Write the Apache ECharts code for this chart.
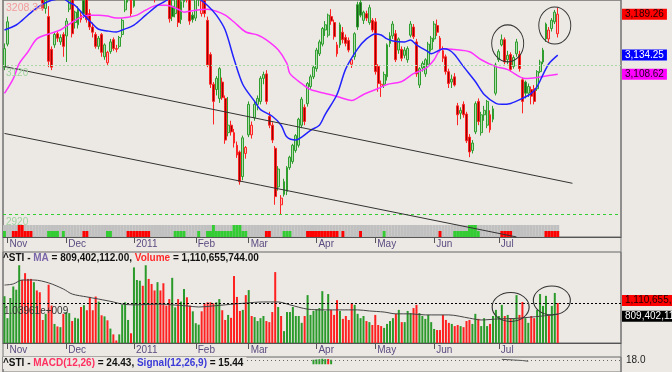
<!DOCTYPE html>
<html><head><meta charset="utf-8">
<script src="https://cdn.jsdelivr.net/npm/echarts@6/dist/echarts.min.js"></script>
<style>html,body{margin:0;padding:0;background:#ece9e4}#c{width:672px;height:372px}</style>
</head><body><div id="c"></div>
<script>
const FONT = '"Liberation Sans", Arial, sans-serif';
const BG = '#ece9e4';

// ---------- calendar ----------
const startDate = [2010, 9, 29];
const holidays = ['2010-11-05','2010-11-17','2011-02-03','2011-02-04','2011-04-22','2011-05-02','2011-05-17','2011-08-09','2011-08-30'];
const slotCount = 210;
const monthTickLabels = {'2010-11':'Nov','2010-12':'Dec','2011-01':'2011','2011-02':'Feb','2011-03':'Mar','2011-04':'Apr','2011-05':'May','2011-06':'Jun','2011-07':'Jul'};

// ---------- price data ----------
const opens = [3118,3149,3215,3232,3255,3268,3284,3276,3266,3255,3244,3248,3232,3222,3197,3186,3142,3148,3163,3152,
3162,3160,3196,3212,3178,3175,3182,3208,3210,3190,3172,3162,3146,3162,3132,3124,3139,3155,3143,3146,
3162,3195,3212,3215,3200,3240,3255,3268,3262,3274,3270,3218,3235,3250,3240,3232,3222,3200,3190,3212,
3182,3206,3218,3214,3188,3184,3210,3190,3208,3181,3135,3095,3088,3076,3098,3076,3030,3040,3030,3013,
3004,2971,3002,3027,3027,3050,3068,3072,3103,3109,3052,3040,3009,2957,2933,2964,2951,2983,2991,3006,
3013,3040,3064,3069,3092,3105,3116,3136,3149,3168,3161,3186,3178,3148,3148,3165,3158,3154,3122,3132,
3202,3205,3181,3190,3178,3181,3179,3119,3092,3095,3105,3150,3160,3163,3141,3142,3134,3128,3161,3172,
3152,3094,3117,3109,3122,3142,3156,3174,3157,3140,3132,3112,3098,3105,3066,3056,3068,3055,3024,3006,
3031,3072,3030,3054,3040,3054,3048,3083,3128,3148,3155,3128,3135,3119,3136,3135,3101,3098,3083,3088,
3089,3089,3112,3125,3156,3156,3170,3179,3163];
const highs = [3150,3186,3240,3262,3280,3290,3300,3292,3280,3266,3258,3256,3245,3228,3215,3200,3146,3165,3166,3162,
3165,3184,3215,3218,3194,3200,3192,3215,3220,3196,3178,3165,3160,3164,3150,3140,3156,3158,3148,3160,
3184,3215,3230,3222,3245,3262,3275,3285,3280,3290,3276,3240,3256,3262,3252,3244,3230,3210,3215,3218,
3210,3225,3228,3222,3192,3215,3225,3212,3215,3186,3138,3098,3106,3118,3104,3080,3078,3046,3035,3018,
3006,3026,3012,3072,3045,3072,3080,3106,3112,3114,3058,3044,3012,2985,2946,2968,2985,2999,3015,3028,
3050,3078,3068,3098,3108,3120,3144,3155,3172,3180,3190,3196,3182,3152,3178,3172,3162,3158,3130,3165,
3206,3210,3194,3194,3202,3184,3184,3122,3100,3112,3150,3165,3180,3168,3158,3146,3145,3146,3180,3176,
3156,3118,3126,3130,3152,3160,3180,3182,3160,3146,3135,3116,3108,3110,3070,3064,3072,3058,3028,3020,
3072,3076,3058,3066,3074,3060,3066,3124,3142,3162,3158,3140,3138,3134,3156,3140,3104,3100,3096,3092,
3094,3114,3128,3144,3178,3172,3184,3195,3198];
const lows = [3114,3146,3212,3225,3248,3258,3270,3262,3248,3238,3232,3226,3218,3194,3190,3118,3114,3144,3152,3148,
3132,3125,3192,3158,3170,3170,3178,3184,3178,3168,3158,3143,3142,3132,3128,3121,3136,3140,3138,3143,
3158,3192,3205,3186,3198,3232,3245,3255,3250,3262,3242,3205,3228,3236,3225,3215,3178,3180,3185,3172,
3176,3198,3205,3175,3178,3180,3200,3186,3185,3118,3090,3041,3080,3070,3074,3015,3025,3026,3010,2996,
2960,2966,2995,3024,3022,3046,3060,3068,3095,3068,3036,3016,2933,2952,2920,2944,2946,2980,2988,3003,
3010,3036,3040,3065,3088,3102,3112,3133,3146,3160,3158,3175,3155,3132,3144,3150,3146,3138,3117,3128,
3168,3185,3176,3180,3175,3165,3108,3085,3078,3090,3100,3145,3156,3125,3136,3126,3130,3124,3158,3156,
3105,3090,3112,3105,3118,3139,3152,3160,3138,3125,3108,3090,3090,3092,3040,3048,3050,3016,2997,3002,
3028,3040,3026,3046,3036,3030,3044,3080,3125,3146,3122,3122,3112,3116,3132,3112,3056,3076,3078,3068,
3068,3086,3110,3122,3152,3152,3166,3176,3158];
const closes = [3143,3179,3232,3255,3270,3284,3276,3268,3255,3244,3250,3234,3224,3197,3208,3126,3118,3162,3157,3158,
3146,3180,3208,3163,3192,3196,3188,3190,3182,3172,3165,3146,3157,3138,3148,3138,3152,3143,3142,3158,
3181,3210,3222,3190,3240,3255,3268,3262,3274,3270,3248,3235,3250,3240,3232,3226,3183,3186,3210,3178,
3206,3218,3212,3180,3182,3210,3218,3207,3190,3121,3095,3072,3103,3116,3077,3020,3040,3031,3016,3000,
2964,3023,3010,3068,3040,3068,3076,3103,3108,3072,3040,3020,2944,2981,2942,2947,2983,2997,3013,3026,
3048,3075,3045,3096,3105,3118,3141,3152,3170,3175,3188,3180,3159,3136,3175,3155,3150,3141,3128,3163,
3172,3188,3192,3184,3198,3168,3112,3096,3095,3108,3148,3160,3176,3128,3156,3130,3141,3143,3176,3159,
3109,3116,3123,3128,3149,3157,3176,3165,3141,3130,3112,3096,3102,3094,3054,3060,3054,3019,3004,3016,
3069,3045,3054,3060,3072,3034,3062,3121,3139,3155,3125,3134,3115,3131,3152,3116,3072,3083,3092,3079,
3072,3112,3125,3141,3176,3168,3181,3192,3189.26];

// moving averages read at sample points: [trading-day index, value]
const maBluePts = [[0,3168],[4,3174.7],[6,3181],[10,3194.7],[13,3202.7],[16,3208],[20,3210],[22,3205],[24,3201],[27,3188],[30,3176],[32,3169],[35,3166.7],[38,3165.3],[40,3168],[44,3174.7],[48,3188],[52,3201],[54,3205.3],[58,3213],[62,3213],[66,3210],[69,3201],[72,3188],[75,3168],[78,3129],[81,3094.7],[85,3072],[87,3061],[91,3052],[94,3040],[96,3024],[99,3020],[101,3024],[104,3033],[107,3040],[109,3054.7],[113,3081.3],[116,3116],[120,3142.7],[123,3156],[126,3162.7],[128,3161.3],[130,3156],[132,3153.3],[136,3152],[138,3154.7],[140,3148],[144,3138.7],[145,3136],[148,3141.3],[149,3142.7],[151,3141.3],[153,3134.7],[156,3118.7],[160,3098.7],[163,3081.3],[167,3069.3],[169,3068],[172,3069.3],[176,3076],[179,3082.7],[181,3092],[183,3108],[185,3122.7],[188,3134.25]];
const maMagentaPts = [[0,3082.7],[3,3102.7],[5,3122.7],[8,3138.7],[11,3156],[15,3162.7],[19,3168],[22,3176],[26,3185.3],[29,3188],[32,3188],[35,3186.7],[38,3184],[42,3185.3],[45,3188],[48,3194.7],[52,3201.3],[55,3201.3],[59,3196],[61,3192],[65,3194.7],[69,3196],[72,3193.3],[75,3188],[78,3178.7],[82,3165.3],[86,3161.3],[89,3154.7],[93,3141.3],[96,3122.7],[97,3109.3],[101,3096],[104,3088],[109,3082.7],[113,3078.7],[118,3073.3],[122,3081.3],[127,3089.3],[130,3094.7],[135,3098.7],[139,3109.3],[143,3116],[146,3128],[148,3141.3],[150,3142.7],[152,3142],[158,3138.7],[162,3128],[167,3118.7],[171,3114.7],[177,3102.7],[181,3104],[185,3106.7],[188,3108.62]];

// trend lines: [[startIndex, startValue], [endIndex, endValue]]
const trendLines = [[[120,3209],[199,3130.7]],[[0,3118.9],[193,2961.9]],[[0,3028.9],[174,2889.7]]];
const circledCandles = [[171,3150],[187,3174]];
const priceLevels = {grid: [3120, 2920], top: 3208.34};

// indicator band segments: [from, to, code]  (+green / -red, 1 short, 2 tall)
const bandSegments = [[0,0,1],[3,9,-1],[5,6,-2],[15,18,1],[20,20,1],[27,28,-1],[35,36,1],[42,49,-1],[58,61,1],[66,66,1],[69,82,1],[71,71,2],[78,80,2],[89,90,-1],[95,97,1],[103,113,-1],[115,115,-1],[121,121,-1],[129,129,1],[148,148,-1],[153,161,1],[158,160,2],[169,172,-1],[184,188,-1]];

// ---------- volume (millions of shares) ----------
const volumesM = [1300,690,1250,1570,1480,2160,1750,1940,1780,1780,1690,1460,1410,640,810,1620,1040,530,460,440,
810,860,830,610,700,680,1000,1050,910,1280,910,1290,1150,770,740,630,400,240,70,240,
1070,1130,640,270,2100,1750,1730,1590,2160,1780,1640,1460,1690,1460,1660,1040,1220,1810,990,1220,
1150,1500,1270,1040,880,550,510,880,1100,1130,1130,1100,1130,1220,910,640,780,700,1860,1280,
890,920,1330,1470,750,720,610,690,750,610,580,860,1970,1000,750,330,860,860,1000,750,
750,560,750,1330,780,890,940,970,1440,890,1360,920,780,1190,890,670,750,640,1110,1060,
810,690,750,610,580,500,780,500,470,420,530,610,690,810,920,580,580,890,830,970,
1060,830,750,670,780,580,390,360,360,780,640,560,530,470,500,470,440,610,640,530,
810,670,470,690,470,530,750,920,750,1060,750,780,690,690,1330,780,1140,690,560,750,
690,920,1360,1030,1310,780,1030,1390,1110.655744];
const volMAPts = [[0,1610],[3,1640],[6,1750],[10,1750],[15,1670],[20,1500],[23,1360],[28,1280],[32,1220],[37,1140],[40,1080],[44,1060],[53,1080],[57,1060],[62,1030],[66,1000],[71,1030],[75,1060],[82,1110],[88,1140],[93,1140],[97,1060],[103,940],[109,920],[114,920],[120,920],[124,890],[129,860],[133,810],[138,810],[143,780],[147,780],[151,780],[158,690],[162,640],[168,670],[173,680],[179,720],[185,770],[188,809.402112]];
const volAxisLabelValue = 1039.61;
const circledVolumes = [[172,1000],[186,1180]];

// ---------- MACD (only the visible upper part) ----------
const macdHistPts = [[105,18],[106,19.3],[107,20.3],[108,22],[109,20.3],[110,-21],[111,18]];
const macdLinePts = [[169,19.5],[171,18.5],[173,17],[176,15],[178,12]];
const macdLast = 24.43, signalLast = 15.44, macdLevel = 18.0;

// ---------- build ----------
const dates = [];
(function(){
  const d = new Date(Date.UTC(startDate[0], startDate[1], startDate[2]));
  while (dates.length < slotCount) {
    const s = d.toISOString().slice(0,10);
    const wd = d.getUTCDay();
    if (wd !== 0 && wd !== 6 && holidays.indexOf(s) < 0) dates.push(s);
    d.setUTCDate(d.getUTCDate() + 1);
  }
})();
const nData = closes.length;
const isMonthStart = i => i > 0 && i < nData && dates[i].slice(0,7) !== dates[i-1].slice(0,7);
const fmt2 = n => n.toLocaleString('en-US', {minimumFractionDigits:2, maximumFractionDigits:2});

const GREEN = '#2f9e2f', RED = '#ff2424';
const GREEN_FILL = '#b4ddb1', RED_FILL = '#ffb9b9';
const GREEN_SOLID = '#1d5e1d', RED_SOLID = '#9a0000';
const rising = i => i === 0 || closes[i] >= closes[i-1];

const candleData = closes.map((c, i) => {
  const up = rising(i), hollow = c >= opens[i];
  const edge = up ? GREEN : RED;
  const fill = hollow ? (up ? GREEN_FILL : RED_FILL) : (up ? GREEN_SOLID : RED_SOLID);
  return {value: [opens[i], c, lows[i], highs[i]],
    itemStyle: {color: fill, color0: fill, borderColor: edge, borderColor0: edge}};
});

const bandCodes = new Array(nData).fill(0);
bandSegments.forEach(([a,b,c]) => { for (let i = a; i <= b; i++) bandCodes[i] = c; });
const bandData = bandCodes.map(c => ({value: Math.abs(c), itemStyle: {color: c > 0 ? '#33cc33' : '#ff0000'}}));

const volData = volumesM.map((v, i) => ({value: v, itemStyle: {color: rising(i) ? '#2a9a2a' : '#ff2020'}}));
const histData = macdHistPts.map(([i, v]) => ({value: [i, Math.abs(v)], itemStyle: {color: v > 0 ? '#2a9a2a' : '#ff2020'}}));

const lastClose = closes[nData-1];
const lastBlue = maBluePts[maBluePts.length-1][1];
const lastMag = maMagentaPts[maMagentaPts.length-1][1];
const lastVol = volumesM[nData-1];
const lastVolMA = volMAPts[volMAPts.length-1][1];

const axisLabelCommon = {
  show: true, interval: (i) => isMonthStart(i), formatter: (v) => monthTickLabels[v.slice(0,7)] || '',
  align: 'left', padding: [0,0,0,2], color: '#5b4b80', fontSize: 10, fontFamily: FONT, margin: 2
};
const axisTickCommon = {show: true, interval: (i) => isMonthStart(i), alignWithLabel: true, length: 6, lineStyle: {color: '#555'}};
const hiddenX = gi => ({type: 'category', gridIndex: gi, data: dates, boundaryGap: true, show: false});

const boxLabel = (text, bg, color, extra) => Object.assign({show: true, position: 'end', formatter: text, backgroundColor: bg,
  color: color, padding: [1,3,0,3], fontSize: 10, fontFamily: FONT, distance: 1}, extra || {});
const sideLabel = (text, color, size, dist) => ({show: true, position: 'insideStartBottom', formatter: text, color: color,
  fontSize: size, fontFamily: FONT, distance: dist});
const noLine = {color: 'rgba(0,0,0,0)', width: 1, type: 'solid'};

const richBase = {fontSize: 10, fontFamily: FONT};
const option = {
  animation: false,
  backgroundColor: BG,
  textStyle: {fontFamily: FONT},
  title: [
    {left: 3, top: 253, padding: 0,
     text: '{k|^STI - }{m|MA}{k| = ' + fmt2(lastVolMA*1e6) + ', }{r|Volume}{k| = ' + fmt2(lastVol*1e6) + '}',
     textStyle: {rich: {k: Object.assign({color: '#111'}, richBase), m: Object.assign({color: '#7a66a8'}, richBase), r: Object.assign({color: '#ff2a2a'}, richBase)}}},
    {left: 3, top: 357, padding: [1,3,1,0], backgroundColor: BG,
     text: '{k|^STI - }{r|MACD(12,26)}{k| = ' + macdLast.toFixed(2) + ', }{b|Signal(12,26,9)}{k| = ' + signalLast.toFixed(2) + '}',
     textStyle: {rich: {k: Object.assign({color: '#111'}, richBase), r: Object.assign({color: '#ff3060'}, richBase), b: Object.assign({color: '#3b3bd8'}, richBase)}}}
  ],
  grid: [
    {left: 3, right: 51, top: -2, height: 239, show: true, borderColor: '#666', borderWidth: 1},
    {left: 3, right: 51, top: 225, height: 12},
    {left: 3, right: 51, top: 252, height: 91, show: true, borderColor: '#666', borderWidth: 1},
    {left: 3, right: 51, top: 357, height: 100, show: true, borderColor: '#666', borderWidth: 1},
    {left: 3, right: 51, top: -10, bottom: -10, show: true, borderColor: '#777', borderWidth: 1}
  ],
  xAxis: [
    {type: 'category', gridIndex: 0, data: dates, boundaryGap: true,
     axisLine: {show: true, lineStyle: {color: '#555'}}, axisTick: axisTickCommon, axisLabel: axisLabelCommon, splitLine: {show: false}},
    hiddenX(1),
    {type: 'category', gridIndex: 2, data: dates, boundaryGap: true,
     axisLine: {show: true, lineStyle: {color: '#555'}}, axisTick: axisTickCommon, axisLabel: axisLabelCommon, splitLine: {show: false}},
    hiddenX(3),
    hiddenX(4)
  ],
  yAxis: [
    {type: 'value', gridIndex: 0, min: 2889.67, max: 3208.34, show: false},
    {type: 'value', gridIndex: 1, min: 0, max: 2, show: false},
    {type: 'value', gridIndex: 2, min: 0, max: 2527.8, show: false},
    {type: 'value', gridIndex: 3, min: -71, max: 29, show: false},
    {type: 'value', gridIndex: 4, min: 0, max: 1, show: false}
  ],
  series: [
    {type: 'bar', xAxisIndex: 1, yAxisIndex: 1, data: bandData, barCategoryGap: '0%', z: 1,
     showBackground: true, backgroundStyle: {color: '#c0c0c0'}},
    {type: 'candlestick', xAxisIndex: 0, yAxisIndex: 0, data: candleData, barWidth: 2.4, z: 3,
     markLine: {silent: true, symbol: ['none','none'], z: 6,
       data: [
         {yAxis: priceLevels.grid[0], lineStyle: {color: '#a9d9a9', type: [2,2], width: 1}, label: sideLabel(String(priceLevels.grid[0]), '#9fd39f', 10, 3)},
         {yAxis: priceLevels.grid[1], lineStyle: {color: '#33cc33', type: [3,3], width: 1}, label: sideLabel(String(priceLevels.grid[1]), '#9fd39f', 10, 3)},
         {yAxis: priceLevels.top, lineStyle: noLine, label: sideLabel(String(priceLevels.top), '#f29a9a', 10.5, 3)},
         {yAxis: lastClose, lineStyle: noLine, label: boxLabel(fmt2(lastClose), '#ff0000', '#200000')}
       ].concat(trendLines.map(([a, b]) => [
         {coord: a, lineStyle: {color: '#333', width: 1, type: 'solid'}, label: {show: false}},
         {coord: b}
       ]))},
     markPoint: {silent: true, z: 6,
       data: circledCandles.map(c => ({coord: c, symbol: 'circle', symbolSize: [32, 37],
         itemStyle: {color: 'rgba(0,0,0,0)', borderColor: '#333', borderWidth: 1}, label: {show: false}}))}},
    {type: 'line', xAxisIndex: 0, yAxisIndex: 0, data: maMagentaPts, smooth: 0.3, symbol: 'none', z: 4,
     lineStyle: {color: '#ff33ff', width: 1.5},
     markLine: {silent: true, symbol: ['none','none'], data: [{yAxis: lastMag, lineStyle: noLine, label: boxLabel(fmt2(lastMag), '#ff00ff', '#200020')}]}},
    {type: 'line', xAxisIndex: 0, yAxisIndex: 0, data: maBluePts, smooth: 0.3, symbol: 'none', z: 5,
     lineStyle: {color: '#2222ff', width: 1.5},
     markLine: {silent: true, symbol: ['none','none'], data: [{yAxis: lastBlue, lineStyle: noLine, label: boxLabel(fmt2(lastBlue), '#0000ff', '#ffffff')}]}},
    {type: 'bar', xAxisIndex: 2, yAxisIndex: 2, data: volData, barWidth: 2, z: 3,
     markLine: {silent: true, symbol: ['none','none'], z: 6,
       data: [
         {yAxis: lastVol, lineStyle: {color: '#000', type: [2,2], width: 1}, label: boxLabel(fmt2(lastVol*1e6), '#ff0000', '#200000', {offset: [0,-2.5]})},
         {yAxis: volAxisLabelValue, lineStyle: noLine, label: sideLabel((volAxisLabelValue*1e6).toExponential(5).replace('e+', 'e+00'), '#333', 10, 1)}
       ]},
     markPoint: {silent: true, z: 6,
       data: circledVolumes.map(c => ({coord: c, symbol: 'circle', symbolSize: [37, 29],
         itemStyle: {color: 'rgba(0,0,0,0)', borderColor: '#333', borderWidth: 1}, label: {show: false}}))}},
    {type: 'line', xAxisIndex: 2, yAxisIndex: 2, data: volMAPts, smooth: 0.3, symbol: 'none', z: 4,
     lineStyle: {color: '#444', width: 1},
     markLine: {silent: true, symbol: ['none','none'], data: [{yAxis: lastVolMA, lineStyle: noLine, label: boxLabel(fmt2(lastVolMA*1e6), '#000', '#fff', {offset: [0,2.5]})}]}},
    {type: 'bar', xAxisIndex: 3, yAxisIndex: 3, data: histData, barWidth: 2, z: 2},
    {type: 'line', xAxisIndex: 3, yAxisIndex: 3, data: macdLinePts, symbol: 'none', z: 3, lineStyle: {color: '#555', width: 1},
     markLine: {silent: true, symbol: ['none','none'], data: [{yAxis: macdLevel, lineStyle: {color: '#666', type: [1,3], width: 1},
       label: {show: true, position: 'end', formatter: macdLevel.toFixed(1), color: '#222', fontSize: 10, fontFamily: FONT, distance: 5}}]}}
  ]
};
const chart = echarts.init(document.getElementById('c'), null, {renderer: 'canvas'});
chart.setOption(option);
</script></body></html>
